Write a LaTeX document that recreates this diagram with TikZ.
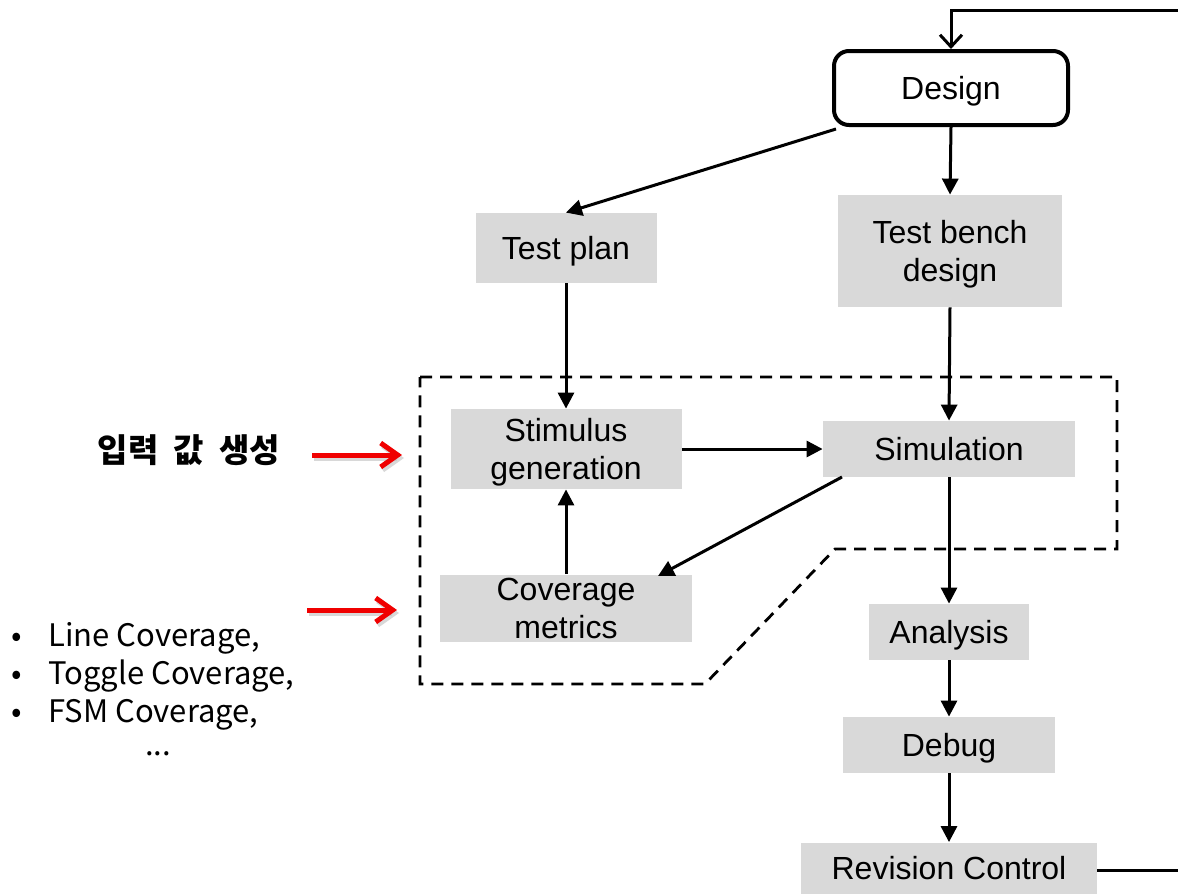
\documentclass[tikz,border=0pt]{standalone}
\usepackage{fontspec}
\setmainfont{Liberation Sans}
\newfontfamily\kofont{Noto Sans CJK KR}
\usetikzlibrary{arrows.meta}
\definecolor{boxgray}{HTML}{D9D9D9}
\definecolor{notered}{HTML}{F00000}
\begin{document}
\begin{tikzpicture}[x=0.5pt,y=-0.5pt,
  box/.style={fill=boxgray, inner sep=0pt, align=center, text depth=0pt, font=\fontsize{16}{19}\selectfont},
  flow/.style={line width=1.5pt, -{Triangle[length=8pt,width=8pt]}},
  note/.style={notered, line width=2.5pt, -{Straight Barb[length=8.5pt,width=12pt,line width=2.5pt]}},
  noteshadow/.style={note, black!25, opacity=0.6, transform canvas={xshift=1pt,yshift=-1.5pt}}]
\fill[white] (0,0) rectangle (1178,894);
\clip (0,0) rectangle (1178,894);
% boxes
\node[draw, line width=2pt, rounded corners=7.5pt, minimum width=117pt, minimum height=37pt, inner sep=0pt, text depth=0pt, font=\fontsize{16}{19}\selectfont] (design) at (951,88) {Design};
\node[box, minimum width=90.5pt, minimum height=35pt] (plan) at (566,248) {Test plan};
\node[box, minimum width=112pt, minimum height=56pt] (bench) at (950,251) {Test bench\\design};
\node[box, minimum width=115.5pt, minimum height=40pt] (stim) at (566,449) {Stimulus\\generation};
\node[box, minimum width=126pt, minimum height=28pt] (sim) at (949,449) {Simulation};
\node[box, minimum width=126pt, minimum height=33.5pt] (cov) at (566,608) {Coverage\\metrics};
\node[box, minimum width=80pt, minimum height=28pt] (ana) at (949,632) {Analysis};
\node[box, minimum width=106pt, minimum height=28pt] (dbg) at (949,745) {Debug};
\node[box, minimum width=148pt, minimum height=25.5pt] (rev) at (949,868) {Revision Control};
% flow
\draw[flow] (design.south west) ++(2pt,-1pt) coordinate (dsw) -- (plan.north);
\draw[flow] (design.south) -- (bench.north);
\draw[flow] (plan.south) -- (stim.north);
\draw[flow] (bench.south) -- (sim.north);
\draw[flow] (stim.east) -- (sim.west);
\draw[flow] (842,477) coordinate (simsw) -- (658,576) coordinate (covne);
\draw[flow] (cov.north) -- (stim.south);
\draw[flow] (sim.south) -- (ana.north);
\draw[flow] (ana.south) -- (dbg.north);
\draw[flow] (dbg.south) -- (rev.north);
% loop back
\coordinate (loopA) at (1195,870);
\coordinate (loopB) at (1195,10);
\coordinate (loopC) at (951,10);
\draw[line width=1.5pt, -{Straight Barb[length=6pt,width=11pt,line width=1.5pt]}] (rev.east |- loopA) -- (loopA) -- (loopB) -- (loopC) -- (design.north);
% dashed region
\draw[line width=1.4pt, dash pattern=on 6pt off 4pt] (420,377) -- (1117,377) -- (1117,549) -- (835,549) -- (705,684) -- (420,684) -- cycle;
% notes
\node[font=\kofont\bfseries\fontsize{16.5}{19}\selectfont] (gen) at (189,450) {입력\ \ 값\ \ 생성};
\coordinate (genA) at (312,455);
\coordinate (genB) at (402,455);
\draw[noteshadow] (genA) -- (genB);
\draw[note] (genA) -- (genB);
\coordinate (covA) at (307,610);
\coordinate (covB) at (397,610);
\draw[noteshadow] (covA) -- (covB);
\draw[note] (covA) -- (covB);
\node[anchor=north west, align=left, inner sep=0pt, font=\kofont\fontsize{15.5}{19}\selectfont] (list) at (11,622) {%
  \makebox[18.5pt][l]{•}Line Coverage,\\
  \makebox[18.5pt][l]{•}Toggle Coverage,\\
  \makebox[18.5pt][l]{•}FSM Coverage,};
\node[font=\kofont\fontsize{15.5}{19}\selectfont] (more) at (158,754) {...};
\end{tikzpicture}
\end{document}
